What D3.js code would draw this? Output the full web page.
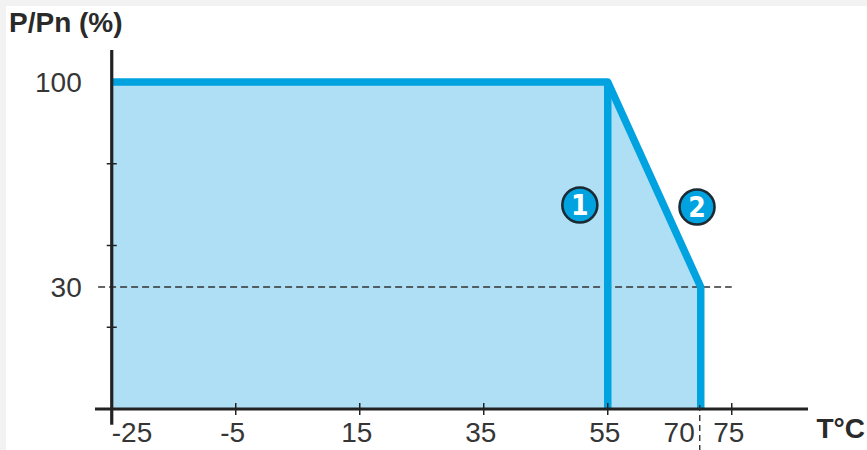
<!DOCTYPE html>
<html>
<head>
<meta charset="utf-8">
<script src="https://cdn.jsdelivr.net/npm/d3@7"></script>
<style>
  html, body { margin: 0; padding: 0; background: #f2f2f2; }
  #chart { position: absolute; left: 6px; top: 6px; width: 861px; height: 444px; background: #fff; }
  svg { position: absolute; left: -6px; top: -6px; font-family: "Liberation Sans", Arial, Helvetica, sans-serif; }
  .tick-label { font-size: 28px; fill: #363636; }
  .axis-title { font-size: 28px; font-weight: bold; fill: #2a2a2a; }
</style>
</head>
<body>
<div id="chart"></div>
<script>
const WIDTH = 867, HEIGHT = 450;

// derating curve: temperature (°C) -> P/Pn (%)
const curveTemp = [-25, 55, 70, 70];
const curvePower = [100, 100, 30, 0];
// curve 1 drops straight down at 55 °C
const cutTemp = [55, 55];
const cutPower = [100, 0];

const xTickValues = [-25, -5, 15, 35, 55, 75];
const xMarkTemp = 70;
const yLabelValues = [100, 30];
const yMinorFractions = [0.25, 0.5, 0.75];

const labelNames = ["1", "2"];
const labelTemp = [50.5, 69.4];
const labelPower = [58, 57.3];

const svg = d3.select("#chart").append("svg")
  .attr("width", WIDTH).attr("height", HEIGHT);

// the sketch is not to scale on the power axis, so a piecewise scale is used
const x = d3.scaleLinear().domain([-27.7, 87.3]).range([95, 808]);
const y = d3.scaleLinear().domain([0, 30, 100]).range([409, 287, 82]);
const yFrac = d3.scaleLinear().domain([0, 1]).range([y(0), y(100)]);

const BLUE = "#00a3df";
const FILL = "#afdff5";
const INK = "#222";

const curve = curveTemp.map((t, i) => ({ t, p: curvePower[i] }));
const cut = cutTemp.map((t, i) => ({ t, p: cutPower[i] }));

// shaded area
svg.append("path")
  .datum(curve)
  .attr("fill", FILL)
  .attr("d", d3.area().x(d => x(d.t)).y0(y(0)).y1(d => y(d.p)));

// dashed reference at 30 %
svg.append("line")
  .attr("x1", x(-27.2)).attr("x2", x(75))
  .attr("y1", y(30)).attr("y2", y(30))
  .attr("stroke", "#333").attr("stroke-width", 1.4)
  .attr("stroke-dasharray", "7,4");

// curves
const line = d3.line().x(d => x(d.t)).y(d => y(d.p));
svg.append("path")
  .datum(curve)
  .attr("fill", "none").attr("stroke", BLUE).attr("stroke-width", 7.5)
  .attr("stroke-linejoin", "round")
  .attr("d", line);
svg.append("path")
  .datum(cut)
  .attr("fill", "none").attr("stroke", BLUE).attr("stroke-width", 7.5)
  .attr("d", line);

// x axis
const gx = svg.append("g").attr("transform", `translate(0,${y(0)})`);
gx.append("line")
  .attr("x1", x.range()[0]).attr("x2", x.range()[1])
  .attr("stroke", INK).attr("stroke-width", 3.2);
gx.selectAll("line.tk").data(xTickValues.slice(1)).join("line")
  .attr("class", "tk")
  .attr("x1", d => x(d)).attr("x2", d => x(d))
  .attr("y1", -6).attr("y2", 6)
  .attr("stroke", INK).attr("stroke-width", 1.5);
gx.selectAll("text").data(xTickValues).join("text")
  .attr("class", "tick-label")
  .attr("x", (d, i) => i === 0 ? x(d) : x(d) - 3)
  .attr("y", 33)
  .attr("text-anchor", (d, i) => i === 0 ? "start" : "middle")
  .text(d => d);
gx.append("text")
  .attr("class", "tick-label")
  .attr("x", x(xMarkTemp) - 6).attr("y", 33)
  .attr("text-anchor", "end")
  .text(xMarkTemp);
gx.append("line")
  .attr("x1", x(xMarkTemp) - 1).attr("x2", x(xMarkTemp) - 1)
  .attr("y1", -4).attr("y2", 41)
  .attr("stroke", "#333").attr("stroke-width", 1.4)
  .attr("stroke-dasharray", "6,4");

// y axis
const gy = svg.append("g").attr("transform", `translate(${x(-25)},0)`);
gy.append("line")
  .attr("y1", y(110.9)).attr("y2", y(-3.9))
  .attr("stroke", INK).attr("stroke-width", 3.2);
gy.selectAll("line.tk").data(yMinorFractions).join("line")
  .attr("class", "tk")
  .attr("y1", d => yFrac(d)).attr("y2", d => yFrac(d))
  .attr("x1", -5).attr("x2", 5)
  .attr("stroke", INK).attr("stroke-width", 1.5);
gy.selectAll("text").data(yLabelValues).join("text")
  .attr("class", "tick-label")
  .attr("x", -30).attr("y", d => y(d) + 10)
  .attr("text-anchor", "end")
  .text(d => d);

// axis titles
svg.append("text").attr("class", "axis-title")
  .attr("x", 9).attr("y", 32)
  .text("P/Pn (%)");
svg.append("text").attr("class", "axis-title")
  .attr("x", 865).attr("y", 438)
  .attr("text-anchor", "end")
  .text("T°C");

// numbered markers
const marks = svg.selectAll("g.mark")
  .data(labelNames.map((n, i) => ({ n, t: labelTemp[i], p: labelPower[i] })))
  .join("g").attr("class", "mark")
  .attr("transform", d => `translate(${x(d.t)},${y(d.p)})`);
marks.append("circle")
  .attr("r", 17.5)
  .attr("fill", BLUE).attr("stroke", "#1b2a33").attr("stroke-width", 2.6);
marks.append("text")
  .attr("text-anchor", "middle").attr("y", 10)
  .attr("fill", "#fff").attr("font-size", 28).attr("font-weight", "bold")
  .attr("font-family", "'Liberation Sans Narrow', 'DejaVu Sans Condensed', sans-serif")
  .text(d => d.n);
</script>
</body>
</html>
